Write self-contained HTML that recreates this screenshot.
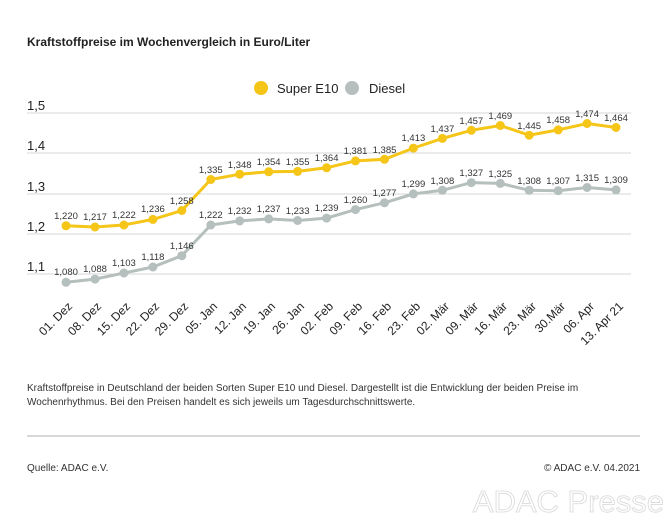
<!DOCTYPE html>
<html><head><meta charset="utf-8"><style>
body{margin:0;background:#fff;}
svg{display:block;font-family:"Liberation Sans",sans-serif;}
</style></head><body>
<svg width="668" height="531" viewBox="0 0 668 531">
<text x="27" y="46" font-size="12" font-weight="bold" fill="#222">Kraftstoffpreise im Wochenvergleich in Euro/Liter</text>
<circle cx="261" cy="88" r="7" fill="#f5c518"/>
<text x="277" y="93" font-size="13" fill="#222">Super E10</text>
<circle cx="352" cy="88" r="7" fill="#b5bfbd"/>
<text x="369" y="93" font-size="13" fill="#222">Diesel</text>
<g stroke="#d4d8d8" stroke-width="1">
<line x1="27" y1="113" x2="631" y2="113"/><line x1="27" y1="153" x2="631" y2="153"/><line x1="27" y1="194" x2="631" y2="194"/><line x1="27" y1="234" x2="631" y2="234"/><line x1="27" y1="274" x2="631" y2="274"/>
</g>
<g font-size="13" fill="#222">
<text x="27" y="110">1,5</text><text x="27" y="150">1,4</text><text x="27" y="191">1,3</text><text x="27" y="231">1,2</text><text x="27" y="271">1,1</text>
</g>
<polyline fill="none" stroke="#f5c518" stroke-width="3" points="66,225.8 95,227 123.9,225 152.9,219.4 181.8,210.5 210.8,179.5 239.7,174.2 268.7,171.8 297.6,171.4 326.6,167.8 355.5,160.9 384.5,159.3 413.4,148.1 442.4,138.4 471.3,130.3 500.3,125.5 529.2,135.2 558.2,129.9 587.1,123.5 616,127.5"/>
<polyline fill="none" stroke="#b5bfbd" stroke-width="3" points="66,282.3 95,279.1 123.9,273 152.9,267 181.8,255.7 210.8,225 239.7,220.9 268.7,218.9 297.6,220.5 326.6,218.1 355.5,209.6 384.5,202.8 413.4,193.9 442.4,190.3 471.3,182.6 500.3,183.4 529.2,190.3 558.2,190.7 587.1,187.5 616,189.9"/>
<g fill="#f5c518">
<circle cx="66" cy="225.8" r="4.5"/><circle cx="95" cy="227" r="4.5"/><circle cx="123.9" cy="225" r="4.5"/><circle cx="152.9" cy="219.4" r="4.5"/><circle cx="181.8" cy="210.5" r="4.5"/><circle cx="210.8" cy="179.5" r="4.5"/><circle cx="239.7" cy="174.2" r="4.5"/><circle cx="268.7" cy="171.8" r="4.5"/><circle cx="297.6" cy="171.4" r="4.5"/><circle cx="326.6" cy="167.8" r="4.5"/><circle cx="355.5" cy="160.9" r="4.5"/><circle cx="384.5" cy="159.3" r="4.5"/><circle cx="413.4" cy="148.1" r="4.5"/><circle cx="442.4" cy="138.4" r="4.5"/><circle cx="471.3" cy="130.3" r="4.5"/><circle cx="500.3" cy="125.5" r="4.5"/><circle cx="529.2" cy="135.2" r="4.5"/><circle cx="558.2" cy="129.9" r="4.5"/><circle cx="587.1" cy="123.5" r="4.5"/><circle cx="616" cy="127.5" r="4.5"/>
</g>
<g fill="#b5bfbd">
<circle cx="66" cy="282.3" r="4.5"/><circle cx="95" cy="279.1" r="4.5"/><circle cx="123.9" cy="273" r="4.5"/><circle cx="152.9" cy="267" r="4.5"/><circle cx="181.8" cy="255.7" r="4.5"/><circle cx="210.8" cy="225" r="4.5"/><circle cx="239.7" cy="220.9" r="4.5"/><circle cx="268.7" cy="218.9" r="4.5"/><circle cx="297.6" cy="220.5" r="4.5"/><circle cx="326.6" cy="218.1" r="4.5"/><circle cx="355.5" cy="209.6" r="4.5"/><circle cx="384.5" cy="202.8" r="4.5"/><circle cx="413.4" cy="193.9" r="4.5"/><circle cx="442.4" cy="190.3" r="4.5"/><circle cx="471.3" cy="182.6" r="4.5"/><circle cx="500.3" cy="183.4" r="4.5"/><circle cx="529.2" cy="190.3" r="4.5"/><circle cx="558.2" cy="190.7" r="4.5"/><circle cx="587.1" cy="187.5" r="4.5"/><circle cx="616" cy="189.9" r="4.5"/>
</g>
<g font-size="9.5" fill="#333" text-anchor="middle">
<text x="66" y="219">1,220</text><text x="95" y="220">1,217</text><text x="123.9" y="218">1,222</text><text x="152.9" y="212">1,236</text><text x="181.8" y="204">1,258</text><text x="210.8" y="173">1,335</text><text x="239.7" y="168">1,348</text><text x="268.7" y="165">1,354</text><text x="297.6" y="165">1,355</text><text x="326.6" y="161">1,364</text><text x="355.5" y="154">1,381</text><text x="384.5" y="153">1,385</text><text x="413.4" y="141">1,413</text><text x="442.4" y="132">1,437</text><text x="471.3" y="124">1,457</text><text x="500.3" y="119">1,469</text><text x="529.2" y="129">1,445</text><text x="558.2" y="123">1,458</text><text x="587.1" y="117">1,474</text><text x="616" y="121">1,464</text>
<text x="66" y="275">1,080</text><text x="95" y="272">1,088</text><text x="123.9" y="266">1,103</text><text x="152.9" y="260">1,118</text><text x="181.8" y="249">1,146</text><text x="210.8" y="218">1,222</text><text x="239.7" y="214">1,232</text><text x="268.7" y="212">1,237</text><text x="297.6" y="214">1,233</text><text x="326.6" y="211">1,239</text><text x="355.5" y="203">1,260</text><text x="384.5" y="196">1,277</text><text x="413.4" y="187">1,299</text><text x="442.4" y="184">1,308</text><text x="471.3" y="176">1,327</text><text x="500.3" y="177">1,325</text><text x="529.2" y="184">1,308</text><text x="558.2" y="184">1,307</text><text x="587.1" y="181">1,315</text><text x="616" y="183">1,309</text>
</g>
<g font-size="12" fill="#222" text-anchor="end">
<text transform="translate(73,307) rotate(-45)">01. Dez</text>
<text transform="translate(102,307) rotate(-45)">08. Dez</text>
<text transform="translate(131,307) rotate(-45)">15. Dez</text>
<text transform="translate(160,307) rotate(-45)">22. Dez</text>
<text transform="translate(189,307) rotate(-45)">29. Dez</text>
<text transform="translate(218,307) rotate(-45)">05. Jan</text>
<text transform="translate(247,307) rotate(-45)">12. Jan</text>
<text transform="translate(276,307) rotate(-45)">19. Jan</text>
<text transform="translate(305,307) rotate(-45)">26. Jan</text>
<text transform="translate(334,307) rotate(-45)">02. Feb</text>
<text transform="translate(363,307) rotate(-45)">09. Feb</text>
<text transform="translate(392,307) rotate(-45)">16. Feb</text>
<text transform="translate(421,307) rotate(-45)">23. Feb</text>
<text transform="translate(450,307) rotate(-45)">02. Mär</text>
<text transform="translate(479,307) rotate(-45)">09. Mär</text>
<text transform="translate(508,307) rotate(-45)">16. Mär</text>
<text transform="translate(537,307) rotate(-45)">23. Mär</text>
<text transform="translate(566,307) rotate(-45)">30.Mär</text>
<text transform="translate(595,307) rotate(-45)">06. Apr</text>
<text transform="translate(624,307) rotate(-45)">13. Apr 21</text>
</g>
<g font-size="10" fill="#333">
<text x="27" y="391">Kraftstoffpreise in Deutschland der beiden Sorten Super E10 und Diesel. Dargestellt ist die Entwicklung der beiden Preise im</text>
<text x="27" y="405">Wochenrhythmus. Bei den Preisen handelt es sich jeweils um Tagesdurchschnittswerte.</text>
<text x="27" y="471">Quelle: ADAC e.V.</text>
<text x="640" y="471" text-anchor="end">© ADAC e.V. 04.2021</text>
</g>
<line x1="27" y1="436" x2="640" y2="436" stroke="#c8cccc" stroke-width="1.5"/>
<text x="664" y="512" font-size="31" text-anchor="end" fill="#fff" stroke="#d8d8d8" stroke-width="0.8">ADAC Presse</text>
</svg>
</body></html>
